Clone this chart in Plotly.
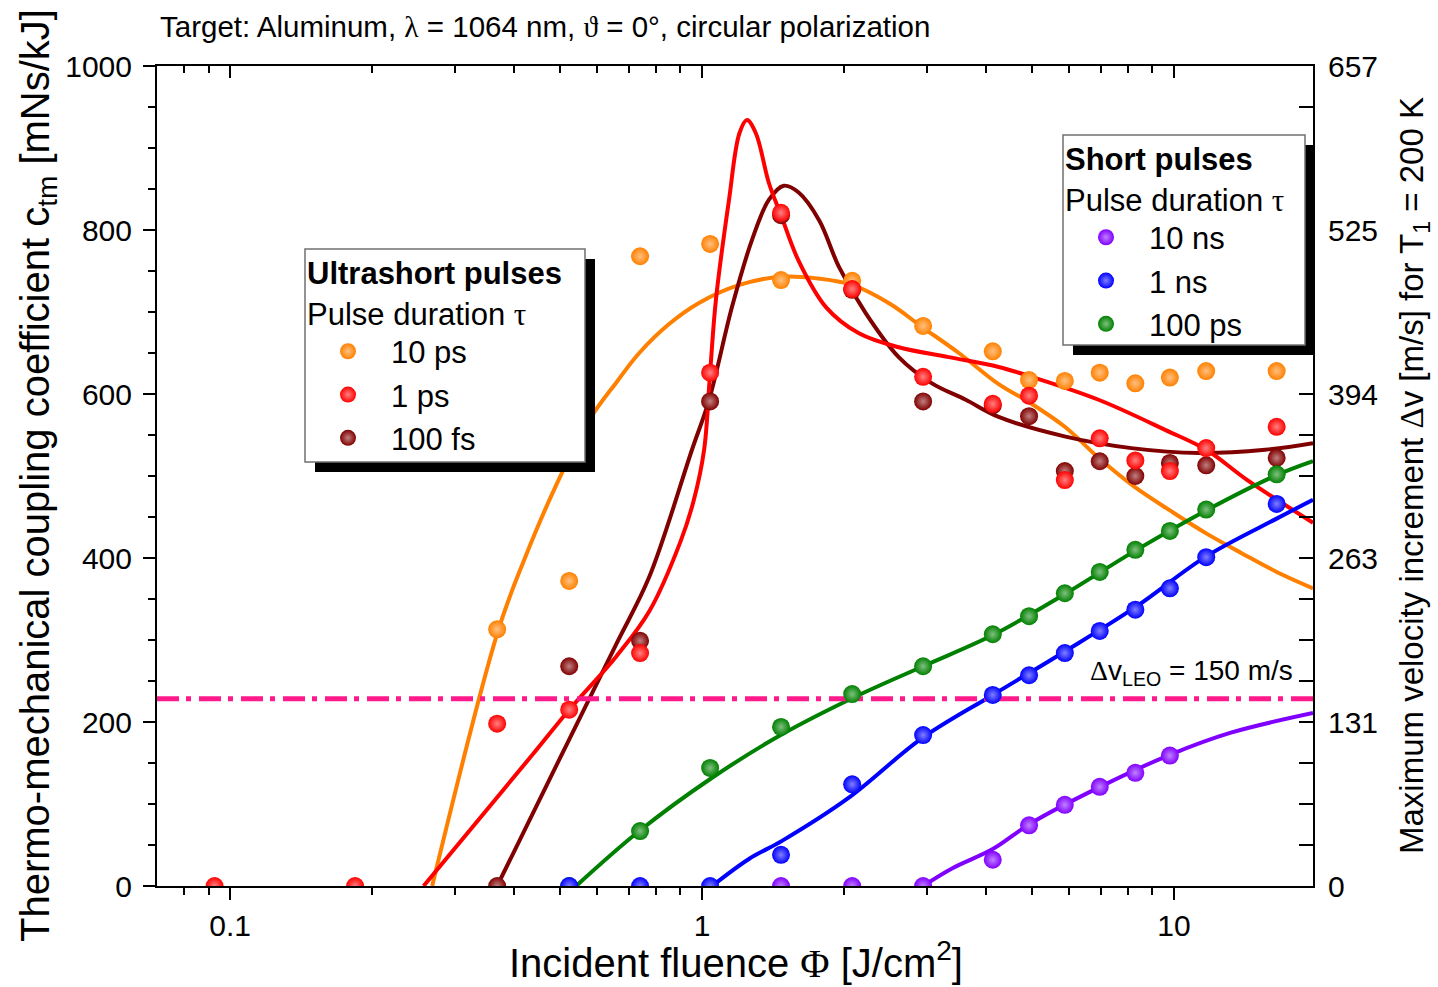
import math
import plotly.graph_objects as go

# ---------------- measured data: fluence [J/cm^2] vs c_tm [mNs/kJ] ----------------
phi_10ps = [0.368, 0.523, 0.739, 1.04, 1.47, 2.08, 2.94, 4.13, 4.93, 5.87, 6.96, 8.28, 9.8, 11.7, 16.5]
ctm_10ps = [313, 372, 768, 783, 739, 738, 683, 652, 617, 616, 626, 613, 620, 628, 628]

phi_1ps = [0.0927, 0.184, 0.368, 0.523, 0.739, 1.04, 1.47, 2.08, 2.94, 4.13, 4.93, 5.87, 6.96, 8.28, 9.8, 11.7, 16.5]
ctm_1ps = [0, 0, 198, 215, 284, 626, 821, 728, 621, 588, 598, 495, 546, 519, 506, 534, 560]

phi_100fs = [0.368, 0.523, 0.739, 1.04, 1.47, 2.08, 2.94, 4.13, 4.93, 5.87, 6.96, 8.28, 9.8, 11.7, 16.5]
ctm_100fs = [0, 268, 299, 591, 818, 727, 591, 586, 573, 506, 518, 500, 516, 513, 522]

phi_100ps = [0.523, 0.739, 1.04, 1.47, 2.08, 2.94, 4.13, 4.93, 5.87, 6.96, 8.28, 9.8, 11.7, 16.5]
ctm_100ps = [0, 67, 144, 194, 234, 268, 307, 329, 357, 383, 410, 433, 459, 502]

phi_1ns = [0.523, 0.739, 1.04, 1.47, 2.08, 2.94, 4.13, 4.93, 5.87, 6.96, 8.28, 9.8, 11.7, 16.5]
ctm_1ns = [0, 0, 0, 38, 124, 184, 233, 257, 284, 311, 337, 363, 401, 466]

phi_10ns = [1.47, 2.08, 2.94, 4.13, 4.93, 5.87, 6.96, 8.28, 9.8]
ctm_10ns = [0, 0, 0, 32, 74, 99, 121, 138, 159]

# ---------------- fitted curves (knots of the smooth fits) ----------------
fit_phi_10ps = [0.268, 0.37, 0.42, 0.49, 0.576, 0.66, 0.736, 0.85, 0.985, 1.2, 1.47,
                1.75, 2.08, 2.5, 2.92, 3.5, 4.25, 4.93, 5.87, 6.96, 8.28, 9.8, 11.7, 14.0, 16.5, 19.7]
fit_ctm_10ps = [0, 312, 398, 488, 568, 615, 650, 685, 711, 733, 743,
                741, 733, 710, 682, 650, 612, 590, 560, 521, 486, 458, 430, 405, 383, 363]

fit_phi_1ps = [0.257, 0.437, 0.523, 0.658, 0.773, 0.9, 0.96, 1.01, 1.04, 1.07, 1.14, 1.2, 1.245,
               1.3, 1.386, 1.47, 1.6, 1.83, 2.15, 2.61, 3.33, 4.25, 4.99, 6.92, 9.6, 11.7, 14.3, 19.7]
fit_ctm_1ps = [0, 160, 215, 280, 335, 420, 470, 532, 626, 715, 836, 918, 934,
               918, 857, 818, 763, 706, 674, 657, 645, 633, 621, 593, 556, 532, 495, 443]

fit_phi_100fs = [0.368, 0.515, 0.658, 0.773, 0.952, 1.035, 1.157, 1.276, 1.386, 1.49, 1.6, 1.77, 1.95,
                 2.22, 2.61, 3.07, 3.62, 4.25, 5.89, 8.12, 11.3, 15.6, 19.7]
fit_ctm_100fs = [0, 171, 295, 377, 532, 593, 706, 788, 837, 854, 846, 812, 755,
                 699, 645, 613, 593, 572, 548, 534, 528, 532, 540]

fit_phi_100ps = [0.541, 0.736, 1.05, 1.477, 2.08, 2.94, 4.13, 5.87, 8.28, 11.7, 16.5, 19.7]
fit_ctm_100ps = [0, 67, 132, 185, 229, 268, 306, 356, 409, 458, 501, 518]

fit_phi_1ns = [1.05, 1.257, 1.477, 2.05, 2.92, 4.13, 5.87, 8.28, 11.7, 16.5, 19.7]
fit_ctm_1ns = [0, 33, 55, 108, 180, 233, 286, 340, 402, 448, 471]

fit_phi_10ns = [2.94, 3.4, 4.13, 4.99, 6.92, 9.8, 13.2, 19.7]
fit_ctm_10ns = [0, 22, 45, 77, 120, 160, 187, 211]

# ---------------- axes ----------------
x_ticks = [0.1, 1, 10]
x_tick_labels = ["0.1", "1", "10"]
x_minor = [0.08, 0.09] + [k / 10 for k in range(2, 10)] + list(range(2, 10))
y_ticks = [0, 200, 400, 600, 800, 1000]
y_tick_labels = ["0", "200", "400", "600", "800", "1000"]
dv_tick_labels = ["0", "131", "263", "394", "525", "657"]  # Δv [m/s] at the same positions
DV_FULL_SCALE = 657.0  # Δv [m/s] corresponding to c_tm = 1000 mNs/kJ
DV_LEO = 150.0         # m/s
ctm_leo = DV_LEO / DV_FULL_SCALE * 1000.0

X_MIN, X_MAX = 0.07, 19.7

ORANGE, RED, DARKRED = "#ff8000", "#ff0000", "#800000"
GREEN, BLUE, PURPLE = "#008000", "#0000ff", "#8000ff"
PINK = "#ff1a8c"

FONT = "Liberation Sans, Arial, Helvetica, sans-serif"


def lighten(hex_color, f):
    r, g, b = (int(hex_color[i:i + 2], 16) for i in (1, 3, 5))
    r, g, b = (round(c + (255 - c) * f) for c in (r, g, b))
    return f"rgb({r},{g},{b})"


def serif(s):
    return f"<span style='font-family:Liberation Serif, Times New Roman, serif'>{s}</span>"


fig = go.Figure()

series = [
    # name, phi, ctm, fit_phi, fit_ctm, color, legend, rank
    ("10 ps", phi_10ps, ctm_10ps, fit_phi_10ps, fit_ctm_10ps, ORANGE, "legend", 1),
    ("100 fs", phi_100fs, ctm_100fs, fit_phi_100fs, fit_ctm_100fs, DARKRED, "legend", 3),
    ("1 ps", phi_1ps, ctm_1ps, fit_phi_1ps, fit_ctm_1ps, RED, "legend", 2),
    ("10 ns", phi_10ns, ctm_10ns, fit_phi_10ns, fit_ctm_10ns, PURPLE, "legend2", 1),
    ("100 ps", phi_100ps, ctm_100ps, fit_phi_100ps, fit_ctm_100ps, GREEN, "legend2", 3),
    ("1 ns", phi_1ns, ctm_1ns, fit_phi_1ns, fit_ctm_1ns, BLUE, "legend2", 2),
]

# fitted curves
for name, _, _, fx, fy, col, _, _ in series:
    fig.add_trace(go.Scatter(
        x=fx, y=fy, mode="lines", line=dict(color=col, width=4, shape="spline", smoothing=1.0),
        showlegend=False, hoverinfo="skip"))

# LEO requirement line
fig.add_trace(go.Scatter(
    x=[X_MIN, X_MAX], y=[ctm_leo, ctm_leo], mode="lines",
    line=dict(color=PINK, width=5, dash="22px,7px,5px,8px"), showlegend=False, hoverinfo="skip"))

# measured points
for name, px_, py_, _, _, col, leg, rank in series:
    fig.add_trace(go.Scatter(
        x=px_, y=py_, mode="markers", name=name, legend=leg, legendrank=rank,
        marker=dict(size=18, color=col, line=dict(width=0),
                    gradient=dict(type="radial", color=lighten(col, 0.5)))))

# companion axes (top / right)
fig.add_trace(go.Scatter(x=[], y=[], xaxis="x2", yaxis="y2", showlegend=False))

# plot area in pixels
L, R, T, B = 157, 1313, 66, 886
W, H = R - L, B - T


def px(xp):
    return (xp - L) / W


def py(yp):
    return (B - yp) / H


axis_common = dict(showgrid=False, zeroline=False, showline=True, linecolor="black", linewidth=2,
                   tickcolor="black", tickwidth=2, tickfont=dict(family=FONT, size=30, color="black"))

legend_common = dict(xanchor="left", yanchor="top", bgcolor="rgba(0,0,0,0)", borderwidth=0,
                     itemwidth=76, itemsizing="trace", font=dict(family=FONT, size=31, color="black"))

fig.update_layout(
    width=1438, height=987,
    margin=dict(l=L, r=1438 - R, t=T, b=987 - B),
    paper_bgcolor="white", plot_bgcolor="white",
    font=dict(family=FONT, color="black"),
    xaxis=dict(type="log", range=[math.log10(X_MIN), math.log10(X_MAX)],
               tickmode="array", tickvals=x_ticks, ticktext=x_tick_labels,
               ticks="outside", ticklen=12,
               minor=dict(tickmode="array", tickvals=x_minor, ticks="outside", ticklen=7,
                          tickwidth=2, tickcolor="black"),
               **axis_common),
    xaxis2=dict(type="log", range=[math.log10(X_MIN), math.log10(X_MAX)], overlaying="x", side="top",
                tickmode="array", tickvals=x_ticks, ticktext=x_tick_labels, showticklabels=False,
                ticks="inside", ticklen=12,
                minor=dict(tickmode="array", tickvals=x_minor, ticks="inside", ticklen=7,
                           tickwidth=2, tickcolor="black"),
                **axis_common),
    yaxis=dict(range=[0, 1000], tickmode="array", tickvals=y_ticks, ticktext=y_tick_labels,
               ticks="outside", ticklen=12, ticklabelstandoff=5,
               minor=dict(dtick=50, ticks="outside", ticklen=7, tickwidth=2, tickcolor="black"),
               **axis_common),
    yaxis2=dict(range=[0, 1000], overlaying="y", side="right", tickmode="array", tickvals=y_ticks,
                ticktext=dv_tick_labels, ticks="inside", ticklen=14, ticklabelstandoff=7,
                minor=dict(dtick=50, ticks="inside", ticklen=14, tickwidth=2, tickcolor="black"),
                **axis_common),
    legend=dict(x=px(305), y=py(244),
                title=dict(text="<b>Ultrashort pulses</b><br>Pulse duration " + serif("τ"),
                           font=dict(family=FONT, size=31, color="black")),
                **legend_common),
    legend2=dict(x=px(1063), y=py(130),
                 title=dict(text="<b>Short pulses</b><br>Pulse duration " + serif("τ"),
                            font=dict(family=FONT, size=31, color="black")),
                 **legend_common),
    showlegend=True,
)

# legend frames with drop shadows
shapes = []
for (x0, y0, x1, y1) in [(305, 249, 585, 462), (1063, 135, 1305, 345)]:
    shapes.append(dict(type="rect", xref="paper", yref="paper", layer="above",
                       x0=px(x0 + 10), x1=px(x1 + 10), y0=py(y1 + 10), y1=py(y0 + 10),
                       fillcolor="black", line=dict(width=0)))
    shapes.append(dict(type="rect", xref="paper", yref="paper", layer="above",
                       x0=px(x0), x1=px(x1), y0=py(y1), y1=py(y0),
                       fillcolor="white", line=dict(color="#707070", width=1.5)))
fig.update_layout(shapes=shapes)

annotations = [
    dict(text="Target: Aluminum, " + serif("λ") + " = 1064 nm, " + serif("ϑ") + " = 0°, circular polarization",
         x=px(158), y=py(27), xanchor="left", yanchor="middle", font=dict(size=29.5)),
    dict(text="Incident fluence " + serif("Φ") + " [J/cm<sup>2</sup>]",
         x=px(736), y=py(960), xanchor="center", yanchor="middle", font=dict(size=40)),
    dict(text="Thermo-mechanical coupling coefficient c<sub>tm</sub> [mNs/kJ]",
         x=px(38), y=py(476), xanchor="center", yanchor="middle", textangle=-90, font=dict(size=40)),
    dict(text="Maximum velocity increment " + serif("Δ") + "v [m/s] for T<sub>1</sub> = 200 K",
         x=px(1414), y=py(476), xanchor="center", yanchor="middle", textangle=-90, font=dict(size=33)),
    dict(text=serif("Δ") + "v<sub>LEO</sub> = 150 m/s",
         x=px(1295), y=py(672), xanchor="right", yanchor="middle", font=dict(size=28)),
]
for a in annotations:
    a.update(xref="paper", yref="paper", showarrow=False)
    a["font"] = dict(family=FONT, color="black", **a["font"])
fig.update_layout(annotations=annotations)

fig.write_html("out.html")
